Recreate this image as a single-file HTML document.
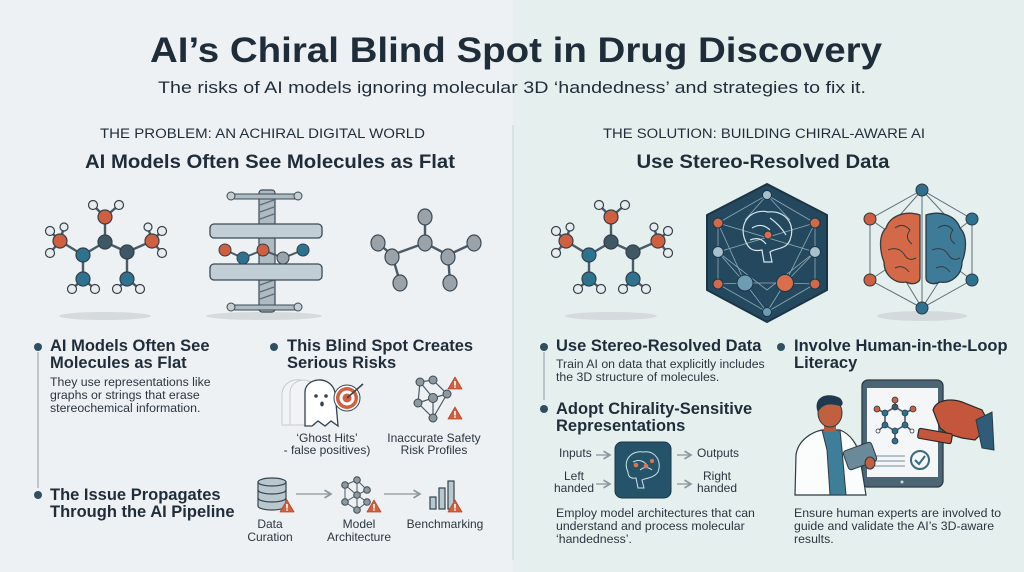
<!DOCTYPE html>
<html><head><meta charset="utf-8"><style>
html,body{margin:0;padding:0;width:1024px;height:572px;overflow:hidden;background:#eef1f3}
svg{display:block}
text{font-family:"Liberation Sans",sans-serif;fill:#1f2d3a}
.h{font-weight:bold;font-size:16.5px}
.b{font-size:12.3px;fill:#2a3540}
.l{font-size:12px;fill:#2a3540}
</style></head><body>
<svg width="1024" height="572" viewBox="0 0 1024 572" xmlns="http://www.w3.org/2000/svg">
<defs>
<marker id="ar" markerWidth="8" markerHeight="8" refX="6" refY="4" orient="auto"><path d="M1,1 L6,4 L1,7" fill="none" stroke="#8a979f" stroke-width="1.3"/></marker>
<g id="warn"><path d="M0,-7 L7,5 L-7,5 Z" fill="#d0603f" stroke="#b54a2e" stroke-width="0.8" stroke-linejoin="round"/><rect x="-0.8" y="-3" width="1.6" height="4.5" fill="#fff"/><circle cx="0" cy="3" r="0.9" fill="#fff"/></g>
<g id="mol">
 <ellipse cx="105" cy="316" rx="46" ry="4" fill="#d5dadc"/>
 <g stroke="#4a5a66" stroke-width="2.4" fill="none">
  <line x1="105" y1="217" x2="105" y2="242"/><line x1="105" y1="242" x2="83" y2="255"/><line x1="105" y1="242" x2="127" y2="252"/>
  <line x1="60" y1="241" x2="83" y2="255"/><line x1="152" y1="241" x2="127" y2="252"/>
  <line x1="83" y1="255" x2="83" y2="279"/><line x1="127" y1="252" x2="127" y2="279"/>
  <line x1="105" y1="217" x2="93" y2="205"/><line x1="105" y1="217" x2="119" y2="205"/>
  <line x1="60" y1="241" x2="50" y2="231"/><line x1="60" y1="241" x2="50" y2="253"/><line x1="60" y1="241" x2="64" y2="227"/>
  <line x1="152" y1="241" x2="162" y2="231"/><line x1="152" y1="241" x2="162" y2="253"/><line x1="152" y1="241" x2="148" y2="227"/>
  <line x1="83" y1="279" x2="72" y2="289"/><line x1="83" y1="279" x2="95" y2="289"/>
  <line x1="127" y1="279" x2="117" y2="289"/><line x1="127" y1="279" x2="140" y2="289"/>
 </g>
 <g stroke="#33414c" stroke-width="1.2">
  <g fill="#e9ecee"><circle cx="93" cy="205" r="4.5"/><circle cx="119" cy="205" r="4.5"/><circle cx="50" cy="231" r="4.5"/><circle cx="50" cy="253" r="4.5"/><circle cx="64" cy="227" r="4"/><circle cx="162" cy="231" r="4.5"/><circle cx="162" cy="253" r="4.5"/><circle cx="148" cy="227" r="4"/><circle cx="72" cy="289" r="4.5"/><circle cx="95" cy="289" r="4.5"/><circle cx="117" cy="289" r="4.5"/><circle cx="140" cy="289" r="4.5"/></g>
  <g fill="#cf5f3e"><circle cx="105" cy="217" r="7"/><circle cx="60" cy="241" r="7"/><circle cx="152" cy="241" r="7"/></g>
  <circle cx="105" cy="242" r="7" fill="#3f5865"/><circle cx="127" cy="252" r="7" fill="#3f5865"/>
  <g fill="#2f7290"><circle cx="83" cy="255" r="7"/><circle cx="83" cy="279" r="7"/><circle cx="127" cy="279" r="7"/></g>
 </g>
</g>
</defs>
<!-- backgrounds -->
<rect x="0" y="0" width="513" height="572" fill="#eef1f3"/>
<rect x="513" y="0" width="511" height="572" fill="#e5f0ee"/>
<line x1="513" y1="125" x2="513" y2="560" stroke="#c7d3d5" stroke-width="1"/>

<!-- titles -->
<text x="516" y="62" text-anchor="middle" font-size="35" font-weight="bold" textLength="732" lengthAdjust="spacingAndGlyphs">AI’s Chiral Blind Spot in Drug Discovery</text>
<text x="512" y="93" text-anchor="middle" font-size="17" textLength="708" lengthAdjust="spacingAndGlyphs">The risks of AI models ignoring molecular 3D ‘handedness’ and strategies to fix it.</text>
<text x="100" y="138" font-size="13.5" textLength="325" lengthAdjust="spacingAndGlyphs" fill="#2a3540">THE PROBLEM: AN ACHIRAL DIGITAL WORLD</text>
<text x="603" y="138" font-size="13.5" textLength="322" lengthAdjust="spacingAndGlyphs" fill="#2a3540">THE SOLUTION: BUILDING CHIRAL-AWARE AI</text>
<text x="270" y="168" text-anchor="middle" font-size="19" font-weight="bold" textLength="370" lengthAdjust="spacingAndGlyphs">AI Models Often See Molecules as Flat</text>
<text x="763" y="168" text-anchor="middle" font-size="19" font-weight="bold" textLength="253" lengthAdjust="spacingAndGlyphs">Use Stereo-Resolved Data</text>

<!-- left molecule -->
<use href="#mol"/>
<!-- press -->
<ellipse cx="264" cy="316" rx="58" ry="4" fill="#d5dadc"/>
<rect x="259" y="190" width="16" height="122" rx="3" fill="#aebbc2" stroke="#3b4a55" stroke-width="1.2"/>
<g stroke="#5c6b74" stroke-width="1.2"><line x1="260" y1="205" x2="274" y2="200"/><line x1="260" y1="212" x2="274" y2="207"/><line x1="260" y1="219" x2="274" y2="214"/><line x1="260" y1="285" x2="274" y2="280"/><line x1="260" y1="292" x2="274" y2="287"/><line x1="260" y1="299" x2="274" y2="294"/></g>
<rect x="233" y="194" width="68" height="5" rx="2" fill="#aebbc2" stroke="#3b4a55"/>
<circle cx="231" cy="196" r="4" fill="#c5ced3" stroke="#3b4a55"/><circle cx="298" cy="196" r="4" fill="#c5ced3" stroke="#3b4a55"/>
<rect x="233" y="305" width="68" height="5" rx="2" fill="#aebbc2" stroke="#3b4a55"/>
<circle cx="231" cy="307" r="4" fill="#c5ced3" stroke="#3b4a55"/><circle cx="298" cy="307" r="4" fill="#c5ced3" stroke="#3b4a55"/>
<rect x="210" y="224" width="112" height="14" rx="4" fill="#c2ced5" stroke="#3b4a55" stroke-width="1.3"/>
<rect x="210" y="264" width="112" height="16" rx="4" fill="#c2ced5" stroke="#3b4a55" stroke-width="1.3"/>
<polyline points="225,250 243,258 263,250 283,258 303,250" fill="none" stroke="#4a5a66" stroke-width="2"/>
<g stroke="#33414c"><circle cx="225" cy="250" r="6" fill="#cf5f3e"/><circle cx="243" cy="258" r="6" fill="#2f7290"/><circle cx="263" cy="250" r="6" fill="#cf5f3e"/><circle cx="283" cy="258" r="6" fill="#9aa3a9"/><circle cx="303" cy="250" r="6" fill="#2f7290"/></g>
<!-- flat molecule -->
<g stroke="#4a5a66" stroke-width="2.4"><line x1="425" y1="217" x2="425" y2="243"/><line x1="425" y1="243" x2="392" y2="255"/><line x1="425" y1="243" x2="448" y2="255"/><line x1="378" y1="243" x2="392" y2="255"/><line x1="474" y1="243" x2="448" y2="255"/><line x1="392" y1="255" x2="400" y2="282"/><line x1="448" y1="255" x2="450" y2="282"/></g>
<g fill="#9aa3a9" stroke="#3b4a55" stroke-width="1.2"><ellipse cx="425" cy="217" rx="7" ry="8"/><ellipse cx="425" cy="243" rx="7" ry="8"/><ellipse cx="378" cy="243" rx="7" ry="8"/><ellipse cx="474" cy="243" rx="7" ry="8"/><ellipse cx="392" cy="257" rx="7" ry="8"/><ellipse cx="448" cy="257" rx="7" ry="8"/><ellipse cx="400" cy="283" rx="7" ry="8"/><ellipse cx="450" cy="283" rx="7" ry="8"/></g>

<!-- right molecule -->
<use href="#mol" x="506"/>
<!-- hexagon -->
<path d="M767,184 L827,215 L827,290 L767,322 L707,290 L707,215 Z" fill="#24495e" stroke="#1b3546" stroke-width="2" stroke-linejoin="round"/>
<g stroke="#a9c3cf" stroke-width="0.8" opacity="0.8" fill="none">
<path d="M767,195 L718,223 L718,284 L767,312 L815,284 L815,223 Z"/>
<path d="M767,195 L745,220 M767,195 L790,220 M718,223 L815,252 M815,223 L718,252 M718,252 L767,290 L815,252 M718,284 L745,283 L785,283 L815,284 M745,283 L767,312 L785,283 M718,252 L745,283 M815,252 L785,283 M718,223 L745,283 M815,223 L785,283"/>
</g>
<g stroke="#d7e6ec" stroke-width="1.2" fill="none"><path d="M745,240 C738,222 752,208 768,212 C786,210 796,225 790,240 C786,250 775,248 770,252 L772,262 L764,262 L762,250 C752,252 748,248 745,240 Z"/><path d="M752,228 Q762,222 770,230 M770,218 Q780,225 786,235 M750,240 Q760,236 766,244"/></g>
<g stroke="#1b3546"><circle cx="767" cy="195" r="4.5" fill="#a8c0cc"/><circle cx="718" cy="223" r="5" fill="#d3694a"/><circle cx="815" cy="223" r="5" fill="#d3694a"/><circle cx="718" cy="252" r="5.5" fill="#a8c0cc"/><circle cx="815" cy="252" r="5.5" fill="#a8c0cc"/><circle cx="718" cy="284" r="5" fill="#d3694a"/><circle cx="815" cy="284" r="5" fill="#d3694a"/><circle cx="745" cy="283" r="8" fill="#6c9db3"/><circle cx="785" cy="283" r="8.5" fill="#d96d4c"/><circle cx="767" cy="312" r="4.5" fill="#6c9db3"/><circle cx="768" cy="235" r="4" fill="#d96d4c"/></g>
<!-- brain cage -->
<ellipse cx="922" cy="316" rx="45" ry="5" fill="#d3dadb"/>
<g stroke="#5d6e78" stroke-width="1" fill="none"><path d="M922,190 L870,219 L870,280 L922,308 L972,280 L972,219 Z M922,190 L900,215 M922,190 L945,215 M870,219 L900,240 M972,219 L945,240 M870,280 L900,260 M972,280 L945,260 M922,308 L905,280 M922,308 L940,280 M922,190 L922,308"/></g>
<path d="M920,215 C905,210 890,216 886,228 C878,236 880,252 884,262 C884,276 896,284 906,282 C914,286 920,282 920,278 Z" fill="#d4694a" stroke="#3b3a3a" stroke-width="1.3"/>
<path d="M926,215 C941,210 956,216 960,228 C968,236 966,252 962,262 C962,276 950,284 940,282 C932,286 926,282 926,278 Z" fill="#3d7b98" stroke="#2b3a44" stroke-width="1.3"/>
<g stroke="#3b3a3a" stroke-width="1" fill="none"><path d="M895,228 q8,-6 15,2 q-6,8 2,14 M888,250 q10,-4 16,4 q4,8 12,4 M895,268 q8,-4 14,4"/><path d="M938,228 q8,-6 15,2 q-6,8 2,14 M932,250 q10,-4 16,4 q4,8 12,4 M936,268 q8,-4 14,4"/></g>
<g stroke="#2b3a44"><circle cx="922" cy="190" r="6" fill="#2f6f8b"/><circle cx="870" cy="219" r="6" fill="#cf5f3e"/><circle cx="972" cy="219" r="6" fill="#2f7290"/><circle cx="870" cy="280" r="6" fill="#cf5f3e"/><circle cx="972" cy="280" r="6" fill="#2f7290"/><circle cx="922" cy="308" r="6" fill="#2f7290"/></g>

<!-- LEFT LOWER -->
<line x1="38" y1="352" x2="38" y2="488" stroke="#8b9aa3" stroke-width="1"/>
<circle cx="38" cy="347" r="4" fill="#2f4f63"/>
<text class="h" x="50" y="351">AI Models Often See</text>
<text class="h" x="50" y="368">Molecules as Flat</text>
<text class="b" x="50" y="386">They use representations like</text>
<text class="b" x="50" y="399">graphs or strings that erase</text>
<text class="b" x="50" y="412">stereochemical information.</text>

<circle cx="274" cy="347" r="4" fill="#2f4f63"/>
<text class="h" x="287" y="351">This Blind Spot Creates</text>
<text class="h" x="287" y="368">Serious Risks</text>
<!-- ghost -->
<g fill="#f1f3f5" stroke="#c4ccd1"><path d="M282,425 L282,395 C282,380 300,375 310,385 L310,425 Z"/><path d="M290,425 L290,393 C290,380 306,376 315,385 L315,425 Z"/></g>
<path d="M305,426 L305,392 C305,378 330,374 335,392 L338,426 L331,421 L325,426 L318,421 L312,426 Z" fill="#fff" stroke="#34434e" stroke-width="1.3"/>
<circle cx="316" cy="396" r="1.8" fill="#34434e"/><circle cx="326" cy="396" r="1.8" fill="#34434e"/><ellipse cx="322" cy="404" rx="1.8" ry="2.5" fill="#34434e"/>
<circle cx="347" cy="398" r="13" fill="#fff" stroke="#34434e"/><circle cx="347" cy="398" r="11" fill="#d0603f"/><circle cx="347" cy="398" r="7.5" fill="#fff"/><circle cx="347" cy="398" r="4.5" fill="#d0603f"/>
<line x1="347" y1="398" x2="363" y2="384" stroke="#34434e" stroke-width="1.5"/>
<!-- network warn -->
<g stroke="#4a5a66" stroke-width="1.2"><path d="M420,382 L433,380 L447,394 L433,398 L420,382 M420,382 L418,403 L433,398 L447,394 M418,403 L433,418 L447,394 M433,398 L433,418" fill="none"/></g>
<g fill="#8e989f" stroke="#3b4a55"><circle cx="420" cy="382" r="4"/><circle cx="433" cy="380" r="4"/><circle cx="447" cy="394" r="4"/><circle cx="433" cy="398" r="4.5"/><circle cx="418" cy="403" r="4"/><circle cx="433" cy="418" r="4"/></g>
<use href="#warn" x="455" y="384"/><use href="#warn" x="455" y="414"/>
<text class="l" x="327" y="442" text-anchor="middle">‘Ghost Hits’</text>
<text class="l" x="327" y="454" text-anchor="middle">- false positives)</text>
<text class="l" x="434" y="442" text-anchor="middle">Inaccurate Safety</text>
<text class="l" x="434" y="454" text-anchor="middle">Risk Profiles</text>

<circle cx="38" cy="495" r="4" fill="#2f4f63"/>
<text class="h" x="50" y="500">The Issue Propagates</text>
<text class="h" x="50" y="517">Through the AI Pipeline</text>
<!-- db -->
<g fill="#b9c7ce" stroke="#34434e" stroke-width="1.2"><path d="M258,482 L258,506 A14,4 0 0 0 286,506 L286,482"/><ellipse cx="272" cy="482" rx="14" ry="4"/><path d="M258,490 A14,4 0 0 0 286,490 M258,498 A14,4 0 0 0 286,498" fill="none"/></g>
<use href="#warn" x="287" y="507"/>
<line x1="296" y1="494" x2="331" y2="494" stroke="#8a979f" stroke-width="1.3" marker-end="url(#ar)"/>
<g stroke="#4a5a66" stroke-width="1" fill="none"><path d="M345,485 L357,480 L367,490 L357,495 L345,485 L345,502 L357,495 L367,502 L357,510 L345,502 M357,480 L357,510"/></g>
<g fill="#8e989f" stroke="#3b4a55"><circle cx="345" cy="485" r="3.3"/><circle cx="357" cy="480" r="3.3"/><circle cx="367" cy="490" r="3.3"/><circle cx="357" cy="495" r="3.3"/><circle cx="345" cy="502" r="3.3"/><circle cx="367" cy="502" r="3.3"/><circle cx="357" cy="510" r="3.3"/></g>
<use href="#warn" x="374" y="507"/>
<line x1="384" y1="494" x2="420" y2="494" stroke="#8a979f" stroke-width="1.3" marker-end="url(#ar)"/>
<g fill="#b9c7ce" stroke="#34434e" stroke-width="1.2"><rect x="430" y="497" width="6" height="12"/><rect x="439" y="488" width="6" height="21"/><rect x="448" y="481" width="6" height="28"/></g>
<use href="#warn" x="455" y="507"/>
<text class="l" x="270" y="528" text-anchor="middle">Data</text>
<text class="l" x="270" y="541" text-anchor="middle">Curation</text>
<text class="l" x="359" y="528" text-anchor="middle">Model</text>
<text class="l" x="359" y="541" text-anchor="middle">Architecture</text>
<text class="l" x="445" y="528" text-anchor="middle">Benchmarking</text>

<!-- RIGHT LOWER -->
<line x1="544" y1="352" x2="544" y2="400" stroke="#8b9aa3" stroke-width="1"/>
<circle cx="544" cy="347" r="4" fill="#2f4f63"/>
<text class="h" x="556" y="351">Use Stereo-Resolved Data</text>
<text class="b" x="556" y="368">Train AI on data that explicitly includes</text>
<text class="b" x="556" y="381">the 3D structure of molecules.</text>
<circle cx="544" cy="409" r="4" fill="#2f4f63"/>
<text class="h" x="556" y="414">Adopt Chirality-Sensitive</text>
<text class="h" x="556" y="431">Representations</text>
<rect x="615" y="442" width="56" height="56" rx="7" fill="#24536a" stroke="#1b3546"/>
<g stroke="#cfe2ea" stroke-width="1" fill="none"><path d="M628,472 C622,460 632,450 643,452 C656,450 662,462 658,472 C654,478 646,478 642,480 L644,488 L638,488 L636,478 C630,479 628,476 628,472 Z"/><path d="M633,462 q8,-4 14,3 M640,470 q6,-5 12,0"/></g>
<g fill="#e0744f"><circle cx="636" cy="465" r="2.3"/><circle cx="646" cy="466" r="2.3"/><circle cx="652" cy="461" r="2"/></g>
<text class="l" x="559" y="457">Inputs</text>
<line x1="596" y1="455" x2="610" y2="455" stroke="#8a979f" stroke-width="1.3" marker-end="url(#ar)"/>
<text class="l" x="574" y="480" text-anchor="middle">Left</text>
<text class="l" x="574" y="492" text-anchor="middle">handed</text>
<line x1="596" y1="484" x2="610" y2="484" stroke="#8a979f" stroke-width="1.3" marker-end="url(#ar)"/>
<line x1="677" y1="455" x2="691" y2="455" stroke="#8a979f" stroke-width="1.3" marker-end="url(#ar)"/>
<text class="l" x="697" y="457">Outputs</text>
<line x1="677" y1="484" x2="691" y2="484" stroke="#8a979f" stroke-width="1.3" marker-end="url(#ar)"/>
<text class="l" x="717" y="480" text-anchor="middle">Right</text>
<text class="l" x="717" y="492" text-anchor="middle">handed</text>
<text class="b" x="556" y="517">Employ model architectures that can</text>
<text class="b" x="556" y="530">understand and process molecular</text>
<text class="b" x="556" y="543">‘handedness’.</text>

<circle cx="781" cy="347" r="4" fill="#2f4f63"/>
<text class="h" x="794" y="351">Involve Human-in-the-Loop</text>
<text class="h" x="794" y="368">Literacy</text>
<!-- tablet -->
<rect x="862" y="380" width="81" height="107" rx="6" fill="#4c6575" stroke="#2b3a44" stroke-width="1.3"/>
<rect x="867" y="388" width="71" height="89" fill="#f4f6f7"/>
<circle cx="902" cy="482" r="1.5" fill="#cfd8dd"/>
<g stroke="#4a5a66" stroke-width="1.6"><path d="M895,400 L895,407 L885,413 L885,425 L895,431 L905,425 L905,413 L895,407 M885,413 L877,409 M905,413 L913,409 M885,425 L878,431 M905,425 L912,431 M895,431 L895,440" fill="none"/></g>
<g stroke="#2b3a44" stroke-width="0.8"><circle cx="895" cy="400" r="3" fill="#cf5f3e"/><circle cx="877" cy="409" r="3" fill="#cf5f3e"/><circle cx="913" cy="409" r="3" fill="#cf5f3e"/><circle cx="895" cy="407" r="3" fill="#3f5865"/><circle cx="885" cy="413" r="3" fill="#2f7290"/><circle cx="905" cy="413" r="3" fill="#2f7290"/><circle cx="885" cy="425" r="3" fill="#2f7290"/><circle cx="905" cy="425" r="3" fill="#2f7290"/><circle cx="895" cy="431" r="3" fill="#2f7290"/><circle cx="878" cy="431" r="2" fill="#fff"/><circle cx="912" cy="431" r="2" fill="#fff"/><circle cx="895" cy="441" r="3" fill="#2f7290"/></g>
<g stroke="#9fb1bb" stroke-width="1.5"><line x1="875" y1="456" x2="905" y2="456"/><line x1="875" y1="461" x2="905" y2="461"/><line x1="875" y1="466" x2="905" y2="466"/></g>
<circle cx="920" cy="460" r="9" fill="none" stroke="#3a6a80" stroke-width="2"/><path d="M915,460 L919,464 L925,456" fill="none" stroke="#3a6a80" stroke-width="2"/>
<!-- hand + stamp -->
<path d="M933,410 C936,400 950,398 962,402 L982,410 L990,425 L975,440 L962,438 L948,434 L940,428 Z" fill="#c4573b" stroke="#2b2a2a" stroke-width="1.2"/>
<path d="M976,420 L992,412 L994,450 L982,448 Z" fill="#2f5c78" stroke="#2b3a44"/>
<rect x="918" y="431" width="34" height="10" rx="2" transform="rotate(10 935 436)" fill="#c4573b" stroke="#2b2a2a" stroke-width="1.2"/>
<!-- person -->
<path d="M795,495 L796,455 C798,440 812,432 822,430 L840,430 C850,434 858,444 860,458 L866,495 Z" fill="#fbfcfc" stroke="#2e3a44" stroke-width="1.2"/>
<path d="M822,430 L827,450 L830,495 L846,495 L842,450 L840,430 Z" fill="#3f7e99" stroke="#2e3a44" stroke-width="1"/>
<rect x="824" y="420" width="12" height="12" fill="#b95a3b"/>
<ellipse cx="830" cy="413" rx="12" ry="14" fill="#c0603f" stroke="#2e3a44"/>
<path d="M817,410 C814,396 828,392 840,398 C844,402 843,406 840,406 C832,404 824,402 818,412 Z" fill="#1f3a4f"/>
<rect x="845" y="446" width="30" height="20" rx="3" transform="rotate(-20 860 456)" fill="#6a8a9a" stroke="#2e3a44"/>
<ellipse cx="870" cy="463" rx="5" ry="6" fill="#c0603f" stroke="#2e3a44"/>
<text class="b" x="794" y="517">Ensure human experts are involved to</text>
<text class="b" x="794" y="530">guide and validate the AI’s 3D-aware</text>
<text class="b" x="794" y="543">results.</text>
</svg>
</body></html>
